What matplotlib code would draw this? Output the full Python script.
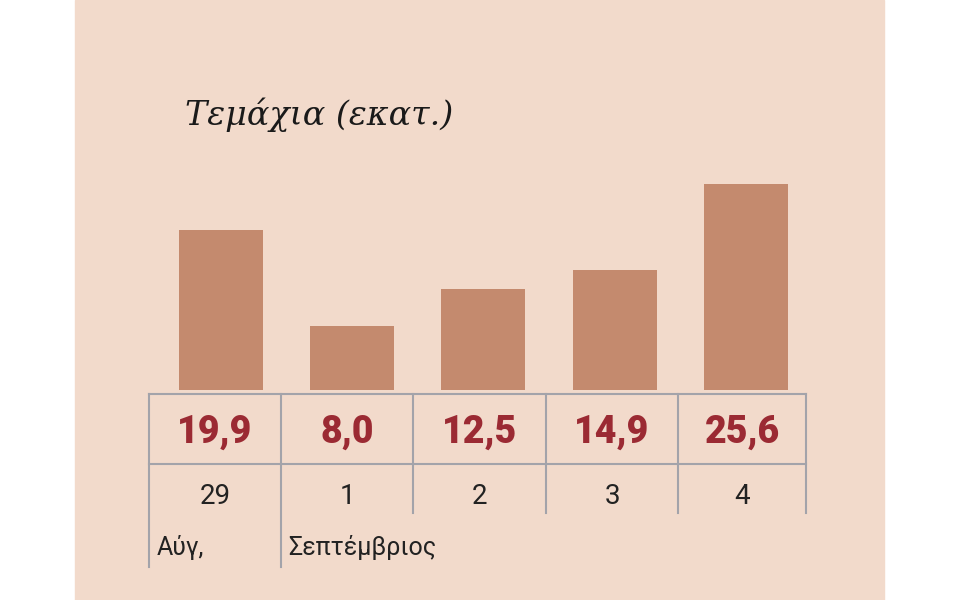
import matplotlib
matplotlib.use("Agg")
import matplotlib.pyplot as plt
from matplotlib.patches import Rectangle

# data
days = ["29", "1", "2", "3", "4"]
values = [19.9, 8.0, 12.5, 14.9, 25.6]
value_labels = ["19,9", "8,0", "12,5", "14,9", "25,6"]
months = ["Αύγ,", "Σεπτέμβριος"]
title = "Τεμάχια (εκατ.)"

BG = "#f2dacb"
BAR = "#c48a6e"
RED = "#9b2a33"
GRID = "#a3a3aa"

W, H = 960, 600
fig = plt.figure(figsize=(W / 100, H / 100), dpi=100)
fig.patch.set_facecolor("white")

# overlay axes in pixel coordinates (y down)
ov = fig.add_axes([0, 0, 1, 1])
ov.set_xlim(0, W)
ov.set_ylim(H, 0)
ov.axis("off")
ov.add_patch(Rectangle((75, 0), 809, H, color=BG, zorder=0))

# bars
left, right, base, top = 149, 806, 390, 150
ax = fig.add_axes([left / W, (H - base) / H, (right - left) / W, (base - top) / H])
ax.patch.set_alpha(0)
px_per_unit = 8.05
ax.set_xlim(-0.545, 4.455)
ax.set_ylim(0, (base - top) / px_per_unit)
ax.bar(range(len(values)), values, width=0.64, color=BAR)
ax.axis("off")

# table lines
ov.plot([149, 806], [394, 394], color=GRID, lw=1.5)
ov.plot([149, 806], [464, 464], color=GRID, lw=1.5)
cols = [149, 281, 413, 546, 678, 806]
for i, x in enumerate(cols):
    bottom = 567 if i < 2 else 513
    ov.plot([x, x], [394, bottom], color=GRID, lw=1.5)

for i, (v, d) in enumerate(zip(value_labels, days)):
    cx = (cols[i] + cols[i + 1]) / 2
    ov.text(cx, 432, v, ha="center", va="center", fontsize=27, fontweight="heavy",
            color=RED, family="Roboto")
    ov.text(cx, 497, d, ha="center", va="center", fontsize=20, color="#222222",
            family="Roboto")

ov.text(157, 548, months[0], ha="left", va="center", fontsize=18, color="#222222", family="Roboto")
ov.text(288, 548, months[1], ha="left", va="center", fontsize=18, color="#222222", family="Roboto")

ov.text(185, 115, title, ha="left", va="center", fontsize=24, style="italic",
        family="DejaVu Serif", color="#1a1a1a")

fig.savefig("out.png", dpi=100)
